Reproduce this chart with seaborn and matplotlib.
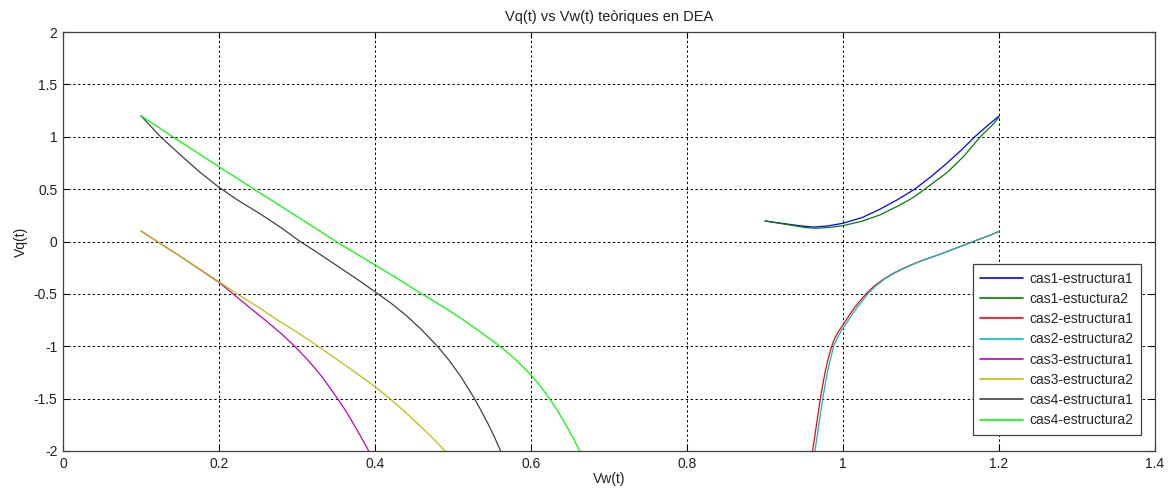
import matplotlib
matplotlib.use("Agg")
import matplotlib.pyplot as plt
import seaborn as sns
import pandas as pd
from matplotlib.ticker import FuncFormatter

# ---- data ----
c1e1_x = [0.90, 0.915, 0.93, 0.945, 0.962, 0.98, 1.00, 1.025, 1.047, 1.07, 1.092, 1.113, 1.133, 1.152, 1.169, 1.185, 1.20]
c1e1_y = [0.196, 0.180, 0.165, 0.150, 0.138, 0.148, 0.174, 0.230, 0.307, 0.400, 0.500, 0.620, 0.746, 0.875, 1.000, 1.105, 1.198]
c1e2_x = [0.90, 0.93, 0.95, 0.966, 0.983, 1.00, 1.025, 1.047, 1.073, 1.09, 1.105, 1.12, 1.133, 1.155, 1.176, 1.19, 1.20]
c1e2_y = [0.196, 0.160, 0.135, 0.126, 0.135, 0.151, 0.195, 0.253, 0.348, 0.420, 0.500, 0.585, 0.655, 0.815, 1.000, 1.100, 1.185]
c2e1_x = [0.961, 0.966, 0.971, 0.974, 0.977, 0.981, 0.9855, 0.990, 0.995, 1.000, 1.008, 1.015, 1.022, 1.030, 1.040, 1.052, 1.066, 1.082, 1.100, 1.124, 1.145, 1.167, 1.185, 1.20]
c2e1_y = [-2.0, -1.75, -1.5, -1.37, -1.25, -1.12, -1.0, -0.915, -0.85, -0.797, -0.705, -0.63, -0.565, -0.497, -0.425, -0.36, -0.298, -0.24, -0.185, -0.123, -0.063, 0.0, 0.05, 0.095]
c2e2_x = [0.964, 0.969, 0.974, 0.977, 0.980, 0.984, 0.988, 0.993, 0.998, 1.003, 1.011, 1.018, 1.025, 1.032, 1.042, 1.053, 1.067, 1.083, 1.100, 1.124, 1.145, 1.167, 1.185, 1.20]
c2e2_y = [-2.0, -1.75, -1.5, -1.37, -1.25, -1.12, -1.0, -0.915, -0.85, -0.797, -0.705, -0.63, -0.565, -0.497, -0.425, -0.36, -0.298, -0.24, -0.185, -0.123, -0.063, 0.0, 0.05, 0.095]
c3e1_x = [0.10, 0.125, 0.15, 0.175, 0.20, 0.218, 0.24, 0.26, 0.28, 0.297, 0.315, 0.333, 0.351, 0.362, 0.372, 0.382, 0.392]
c3e1_y = [0.10, -0.02, -0.14, -0.265, -0.39, -0.50, -0.635, -0.755, -0.88, -1.00, -1.14, -1.30, -1.49, -1.61, -1.736, -1.865, -2.0]
c3e2_x = [0.10, 0.125, 0.15, 0.175, 0.20, 0.223, 0.25, 0.275, 0.30, 0.327, 0.35, 0.375, 0.40, 0.419, 0.437, 0.4534, 0.472, 0.49]
c3e2_y = [0.10, -0.02, -0.14, -0.262, -0.384, -0.50, -0.625, -0.75, -0.865, -1.00, -1.12, -1.25, -1.386, -1.50, -1.617, -1.73, -1.862, -2.0]
c4e1_x = [0.10, 0.125, 0.15, 0.175, 0.20, 0.225, 0.2526, 0.28, 0.304, 0.325, 0.35, 0.38, 0.40, 0.42, 0.44, 0.46, 0.481, 0.495, 0.51, 0.526, 0.535, 0.545, 0.553, 0.561]
c4e1_y = [1.20, 1.00, 0.83, 0.665, 0.517, 0.39, 0.265, 0.13, 0.0, -0.10, -0.225, -0.375, -0.48, -0.586, -0.706, -0.844, -1.008, -1.134, -1.289, -1.481, -1.60, -1.742, -1.864, -2.0]
c4e2_x = [0.10, 0.15, 0.20, 0.25, 0.30, 0.35, 0.368, 0.40, 0.43, 0.46, 0.485, 0.509, 0.535, 0.56, 0.58, 0.60, 0.611, 0.622, 0.634, 0.646, 0.655, 0.6625]
c4e2_y = [1.20, 0.955, 0.714, 0.475, 0.24, 0.0, -0.081, -0.224, -0.36, -0.50, -0.612, -0.727, -0.862, -1.00, -1.124, -1.274, -1.371, -1.481, -1.615, -1.765, -1.889, -2.0]

labels = ["cas1-estructura1", "cas1-estuctura2", "cas2-estructura1", "cas2-estructura2",
          "cas3-estructura1", "cas3-estructura2", "cas4-estructura1", "cas4-estructura2"]
colors = [(0, 0, 1), (0, 0.5, 0), (1, 0, 0), (0, 0.75, 0.75),
          (0.75, 0, 0.75), (0.75, 0.75, 0), (0.25, 0.25, 0.25), (0, 1, 0)]
series_x = [c1e1_x, c1e2_x, c2e1_x, c2e2_x, c3e1_x, c3e2_x, c4e1_x, c4e2_x]
series_y = [c1e1_y, c1e2_y, c2e1_y, c2e2_y, c3e1_y, c3e2_y, c4e1_y, c4e2_y]

xticks = [0, 0.2, 0.4, 0.6, 0.8, 1.0, 1.2, 1.4]
yticks = [-2, -1.5, -1, -0.5, 0, 0.5, 1, 1.5, 2]

rows = []
for lab, xs, ys in zip(labels, series_x, series_y):
    for i, (x, y) in enumerate(zip(xs, ys)):
        rows.append({"Vw": x, "Vq": y, "serie": lab, "ord": i})
df = pd.DataFrame(rows)

sns.set_style("white")
plt.rcParams['font.family'] = ['Liberation Sans', 'DejaVu Sans']

fig = plt.figure(figsize=(11.7, 4.93), dpi=100, facecolor='white')
ax = fig.add_axes([63/1170, 1 - 451/493, (1155-63)/1170, (451-32)/493])

sns.lineplot(data=df, x="Vw", y="Vq", hue="serie", hue_order=labels,
             palette=dict(zip(labels, colors)), sort=False, estimator=None,
             linewidth=0.9, ax=ax)

ax.set_xlim(0, 1.4)
ax.set_ylim(-2, 2)
ax.set_xticks(xticks)
ax.set_yticks(yticks)
fmt = FuncFormatter(lambda v, p: ('%g' % round(v, 3)))
ax.xaxis.set_major_formatter(fmt)
ax.yaxis.set_major_formatter(fmt)
ax.tick_params(direction='in', length=4, width=0.8, labelsize=10, colors='black',
               labelcolor='#202020', top=True, right=True, bottom=True, left=True, pad=4)
ax.grid(True, color='black', linestyle=(0, (2.5, 2.5)), linewidth=0.7)
for s in ax.spines.values():
    s.set_visible(True)
    s.set_color('#404040')
    s.set_linewidth(0.9)

ax.set_xlabel("Vw(t)", fontsize=10, labelpad=1, color='#202020')
ax.set_ylabel("Vq(t)", fontsize=10, labelpad=4, color='#202020')
ax.set_title("Vq(t) vs Vw(t) teòriques en DEA", fontsize=10.5, pad=8, color='#202020')

leg = ax.legend(loc='lower right', bbox_to_anchor=(0.9875, 0.038), fontsize=10,
                frameon=True, fancybox=False, framealpha=1, edgecolor='#404040',
                handlelength=3.1, borderpad=0.55, labelspacing=0.45, handletextpad=0.45,
                borderaxespad=0)
leg.get_frame().set_linewidth(0.9)
for line in leg.get_lines():
    line.set_linewidth(1.2)

fig.savefig("out.png", dpi=100, facecolor='white')
